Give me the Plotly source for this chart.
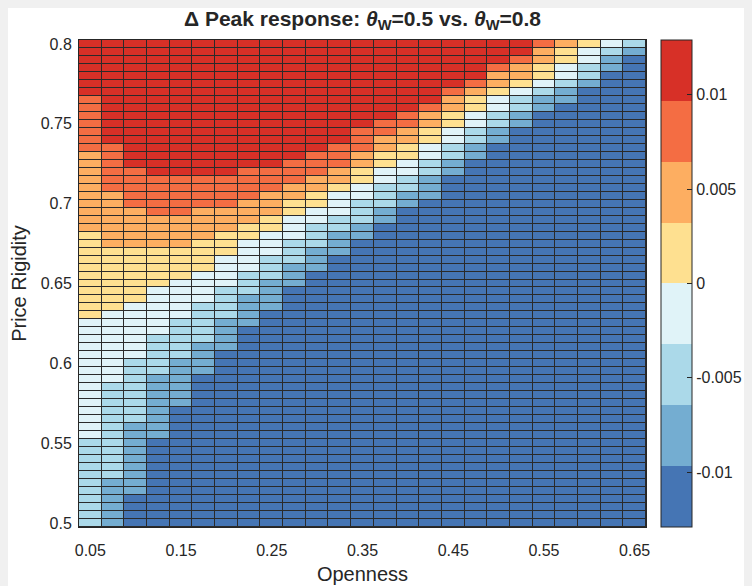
import plotly.graph_objects as go

# Grid (cell centres)
openness = [round(0.05 + 0.025 * j, 3) for j in range(25)]
rigidity = [round(0.5 + 0.005 * i, 3) for i in range(61)]

# Level colours (8 discrete bins) and representative values per bin
level_colors = ["#4575b4", "#74add1", "#abd9e9", "#e0f3f8",
                "#fee090", "#fdae61", "#f46d43", "#d73027"]
level_values = [-0.0113, -0.0081, -0.0048, -0.0016,
                0.0016, 0.0048, 0.0081, 0.0113]

# For each column (openness), the first row index (from the bottom, 0..60)
# at which the level reaches >= k.
top_L1 = [0, 0, 4, 11, 15, 19, 22, 25, 27, 30, 32, 34, 36, 38, 40, 41, 44, 46, 48, 50, 52, 53, 55, 57, 59]
top_L2 = [0, 6, 13, 19, 21, 23, 26, 29, 31, 33, 35, 37, 38, 40, 42, 44, 46, 48, 50, 52, 54, 55, 56, 59, 60]
top_L3 = [11, 18, 21, 24, 26, 28, 30, 32, 34, 36, 38, 39, 41, 43, 44, 46, 48, 50, 52, 54, 55, 56, 58, 60, 61]
top_L4 = [26, 27, 28, 30, 31, 32, 34, 36, 37, 39, 40, 42, 43, 45, 46, 48, 50, 52, 54, 55, 56, 58, 60, 61, 61]
top_L5 = [37, 35, 35, 35, 35, 36, 37, 38, 39, 41, 42, 43, 45, 47, 48, 50, 52, 54, 55, 56, 58, 60, 61, 61, 61]
top_L6 = [47, 42, 40, 39, 39, 40, 40, 41, 42, 43, 44, 45, 47, 49, 50, 52, 54, 55, 57, 58, 60, 61, 61, 61, 61]
top_L7 = [54, 48, 45, 44, 44, 44, 44, 45, 45, 46, 47, 48, 50, 51, 52, 53, 55, 56, 58, 59, 61, 61, 61, 61, 61]

tops = [top_L1, top_L2, top_L3, top_L4, top_L5, top_L6, top_L7]
z = []
for i in range(len(rigidity)):
    row = []
    for j in range(len(openness)):
        lvl = sum(1 for t in tops if i >= t[j])
        row.append(level_values[lvl])
    z.append(row)

zmin, zmax = -0.0129, 0.0129
colorscale = []
for k, c in enumerate(level_colors):
    colorscale.append([k / 8, c])
    colorscale.append([(k + 1) / 8, c])

x_ticks = [0.05, 0.15, 0.25, 0.35, 0.45, 0.55, 0.65]
y_ticks = [0.5, 0.55, 0.6, 0.65, 0.7, 0.75, 0.8]
cb_ticks = [-0.01, -0.005, 0, 0.005, 0.01]
cb_labels = ["-0.01", "-0.005", "0", "0.005", "0.01"]

FONT = "Liberation Sans, Arial, Helvetica, sans-serif"
TXT = "#262626"

# The page body adds an 8px offset; figure coordinates below are page - 8.
W, H = 752, 586
L, T = 71, 32
PR, PB = 642, 519          # plot right / bottom in figure pixels
R, B = W - PR, H - PB
pw, ph = PR - L, PB - T


def px_x(px):
    return (px - L) / pw


fig = go.Figure(go.Heatmap(
    x=openness, y=rigidity, z=z,
    zmin=zmin, zmax=zmax, colorscale=colorscale,
    xgap=1, ygap=1,
    colorbar=dict(
        x=px_x(657), xanchor="left", xpad=0,
        y=0.5, yanchor="middle", len=1, lenmode="fraction", ypad=0,
        thickness=31, thicknessmode="pixels",
        outlinecolor=TXT, outlinewidth=1,
        tickvals=cb_ticks, ticktext=cb_labels,
        ticks="inside", ticklen=5, tickcolor=TXT,
        tickfont=dict(family=FONT, size=16, color=TXT),
    ),
))

fig.update_layout(
    width=W, height=H,
    margin=dict(l=L, r=R, t=T, b=B),
    paper_bgcolor="white",
    plot_bgcolor="#2a2a2a",
    title=dict(
        text="<b>Δ Peak response: <i>θ</i><sub>W</sub>=0.5 vs. <i>θ</i><sub>W</sub>=0.8</b>",
        x=0.5, xref="paper", xanchor="center",
        y=1 - 10.5 / H, yref="container", yanchor="middle",
        font=dict(family=FONT, size=21, color=TXT),
    ),
    xaxis=dict(
        range=[0.0375, 0.6625], tickvals=x_ticks,
        ticktext=["0.05", "0.15", "0.25", "0.35", "0.45", "0.55", "0.65"],
        showgrid=False, zeroline=False, ticks="", automargin=False,
        ticklabelstandoff=9,
        showline=True, mirror=True, linecolor=TXT, linewidth=1,
        tickfont=dict(family=FONT, size=16, color=TXT),
        title=dict(text="Openness", font=dict(family=FONT, size=20, color=TXT), standoff=8),
    ),
    yaxis=dict(
        range=[0.4975, 0.8025], tickvals=y_ticks,
        ticktext=["0.5", "0.55", "0.6", "0.65", "0.7", "0.75", "0.8"],
        showgrid=False, zeroline=False, ticks="", automargin=False,
        ticklabelstandoff=3,
        showline=True, mirror=True, linecolor=TXT, linewidth=1,
        tickfont=dict(family=FONT, size=16, color=TXT),
        title=dict(text="Price Rigidity", font=dict(family=FONT, size=20, color=TXT), standoff=14),
    ),
)

fig.write_html(
    "out.html",
    post_script="document.documentElement.style.background='#f0f0f0';"
                "document.body.style.background='#f0f0f0';",
)
